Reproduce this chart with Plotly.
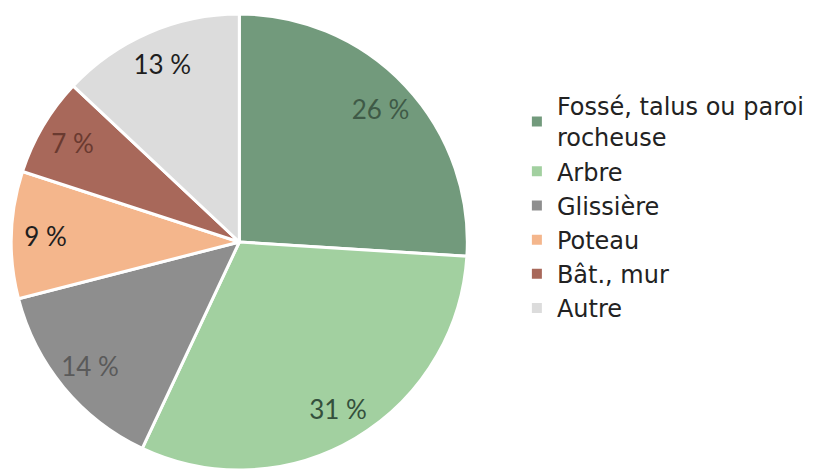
import plotly.graph_objects as go

labels = ["Fossé, talus ou paroi<br>rocheuse", "Arbre", "Glissière", "Poteau", "Bât., mur", "Autre"]
values = [26, 31, 14, 9, 7, 13]
colors = ["#729a7c", "#a2d0a0", "#8e8e8e", "#f4b68c", "#a8685a", "#dcdcdc"]
label_colors = ["#3f5a47", "#34503c", "#5a5a5a", "#1e1e1e", "#6a3a30", "#1e1e1e"]

dom = dict(x=[0.01, 0.566], y=[0, 1])

fig = go.Figure()

# coloured slices + legend
fig.add_trace(go.Pie(
    labels=labels,
    values=values,
    sort=False,
    direction="clockwise",
    rotation=0,
    domain=dom,
    marker=dict(colors=colors, line=dict(color="white", width=3)),
    textinfo="none",
    hoverinfo="label+value",
))

# transparent ring, only used to place the % labels near the rim
fig.add_trace(go.Pie(
    labels=[l + " " for l in labels],
    values=values,
    sort=False,
    direction="clockwise",
    rotation=0,
    domain=dom,
    hole=0.7,
    marker=dict(colors=["rgba(0,0,0,0)"] * len(values), line=dict(width=0)),
    texttemplate="%{value} %",
    textposition="inside",
    insidetextorientation="horizontal",
    textfont=dict(family="Lato", size=26, color=label_colors),
    showlegend=False,
    hoverinfo="skip",
))

fig.update_layout(
    width=831,
    height=470,
    margin=dict(l=0, r=0, t=14, b=0),
    paper_bgcolor="white",
    uniformtext=dict(minsize=26, mode="show"),
    legend=dict(
        x=0.622, y=0.847, xanchor="left", yanchor="top",
        font=dict(family="DejaVu Sans", size=24, color="#222222"),
        itemsizing="constant",
    ),
)

fig.write_html(
    "out.html",
    config={"displayModeBar": False},
    post_script="document.body.style.margin='0';document.body.style.overflow='hidden';",
)
